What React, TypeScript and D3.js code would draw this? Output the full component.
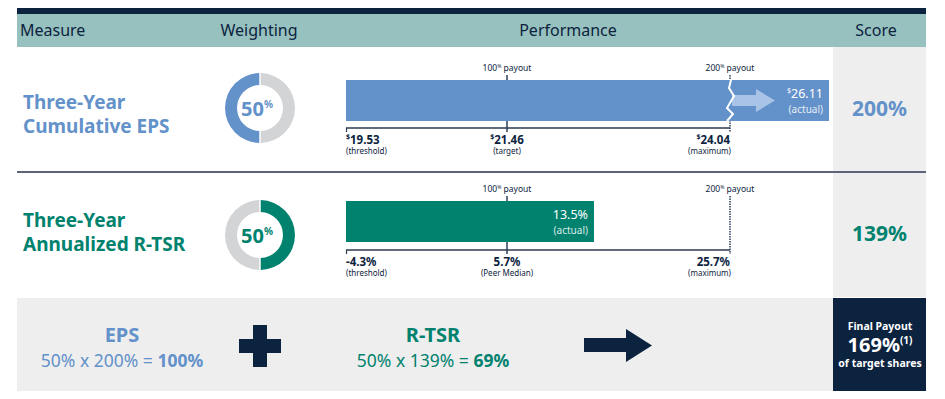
import React from "react";
import * as d3 from "d3";

// ---- data ----
const headerLabels = ["Measure", "Weighting", "Performance", "Score"];
const measureLines = [
  ["Three-Year", "Cumulative EPS"],
  ["Three-Year", "Annualized R-TSR"],
];
const weights = [50, 50];
const payoutMarks = ["100", "200"];
const epsTicks = [19.53, 21.46, 24.04];
const epsTickNotes = ["(threshold)", "(target)", "(maximum)"];
const epsActual = 26.11;
const tsrTicks = [-4.3, 5.7, 25.7];
const tsrTickNotes = ["(threshold)", "(Peer Median)", "(maximum)"];
const tsrActual = 13.5;
const scores = [200, 139];
const shortNames = ["EPS", "R-TSR"];
const contributions = [100, 69];
const finalPayout = 169;

// ---- style ----
const NAVY = "#0c2340";
const TEAL_HDR = "#97c1be";
const BLUE = "#6391c9";
const GREEN = "#00826f";
const GREY_BG = "#eeeeee";
const DONUT_GREY = "#d3d4d6";
const LIGHT_BLUE = "#a9c3e6";
const FONT = "'Noto Sans', sans-serif";

const L = 17, R = 926, SCORE_X = 833;
const perfStops = [346, 507, 730];
const perfEnd = 829;

const rows = [
  { top: 47, bottom: 172, color: BLUE, ticks: epsTicks, notes: epsTickNotes, actual: epsActual, fmt: (v: number) => v.toFixed(2), dollar: true, barTop: 80, barBot: 121, axisY: 128, weightLeft: true, titleY: 109, donutY: 108 },
  { top: 173, bottom: 297, color: GREEN, ticks: tsrTicks, notes: tsrTickNotes, actual: tsrActual, fmt: (v: number) => v.toFixed(1) + "%", dollar: false, barTop: 201, barBot: 242, axisY: 250, weightLeft: false, titleY: 227, donutY: 235 },
];

function Row({ r, i }: { r: typeof rows[number]; i: number }) {
  const x = d3.scaleLinear().domain(r.ticks).range(perfStops);
  const barEnd = Math.min(x(r.actual), perfEnd);
  const broken = x(r.actual) > perfEnd;
  const maxX = x(r.ticks[2]);
  const mid = (r.barTop + r.barBot) / 2;
  const cy = r.donutY;
  const pie = d3.pie<number>().sort(null).padAngle(0.035)
    .startAngle(r.weightLeft ? Math.PI : 0).endAngle(r.weightLeft ? 3 * Math.PI : 2 * Math.PI);
  const arcs = pie([weights[i], 100 - weights[i]]);
  const arc = d3.arc<d3.PieArcDatum<number>>().innerRadius(23).outerRadius(35);
  const anchors = ["start", "middle", "end"];
  const zig = [[1, 0], [-1, 8], [4, 16], [-3, 28], [3, 34], [-3, 41]];
  const labelY = r.barTop - 9;
  const scoreY = (r.top + r.bottom) / 2 + 6;
  return (
    <g>
      <rect x={SCORE_X} y={r.top} width={R - SCORE_X} height={r.bottom - r.top} fill={GREY_BG} />
      {measureLines[i].map((t, k) => (
        <text key={k} x={23} y={r.titleY + k * 24} fontFamily={FONT} fontWeight="bold" fontSize={19} fill={r.color}>{t}</text>
      ))}
      <g transform={`translate(260,${cy})`}>
        {arcs.map((a, k) => (
          <path key={k} d={arc(a) || ""} fill={k === 0 ? r.color : DONUT_GREY} />
        ))}
        <text x={-3} y={8} textAnchor="middle" fontFamily={FONT} fontWeight="bold" fontSize={20} fill={r.color}>
          {weights[i]}<tspan fontSize={10} dy={-8}>%</tspan>
        </text>
      </g>
      {/* payout labels */}
      {payoutMarks.map((p, k) => (
        <text key={k} x={perfStops[k + 1]} y={labelY} textAnchor="middle" fontFamily={FONT} fontSize={8.5} fill={NAVY}>
          {p}<tspan fontSize={5} dy={-3}>%</tspan><tspan dy={3}> payout</tspan>
        </text>
      ))}
      {/* target tick */}
      <line x1={x(r.ticks[1])} x2={x(r.ticks[1])} y1={r.barTop - 5} y2={r.axisY + 4} stroke={NAVY} strokeWidth={1.3} />
      {/* max dotted */}
      <line x1={maxX} x2={maxX} y1={r.barTop - 5} y2={r.axisY + 4} stroke={NAVY} strokeWidth={1.3} strokeDasharray="1.5,1" />
      {/* bar */}
      <rect x={perfStops[0]} y={r.barTop} width={barEnd - perfStops[0]} height={r.barBot - r.barTop} fill={r.color} />
      {broken && (
        <g>
          <path d={`M${maxX + 2},${mid - 5.5}H${maxX + 26}V${mid - 11.5}L${maxX + 45},${mid}L${maxX + 26},${mid + 11.5}V${mid + 5.5}H${maxX + 2}Z`} fill={LIGHT_BLUE} />
          <polyline points={zig.map(([dx, dy]) => `${maxX + dx},${r.barTop + dy}`).join(" ")} fill="none" stroke="#fff" strokeWidth={2} />
        </g>
      )}
      <text x={barEnd - 6} y={mid - 2.5} textAnchor="end" fontFamily={FONT} fontSize={12.5} fill="#fff">
        {r.dollar && <tspan fontSize={7} dy={-5}>$</tspan>}
        <tspan dy={r.dollar ? 5 : 0}>{r.fmt(r.actual)}</tspan>
      </text>
      <text x={barEnd - 6} y={mid + 12.5} textAnchor="end" fontFamily={FONT} fontSize={10} fill="#fff" opacity={0.85}>(actual)</text>
      {/* axis */}
      <line x1={perfStops[0]} x2={maxX} y1={r.axisY} y2={r.axisY} stroke="#2c3a4e" strokeWidth={1.6} />
      <line x1={perfStops[0] + 0.5} x2={perfStops[0] + 0.5} y1={r.axisY} y2={r.axisY + 4} stroke="#2c3a4e" strokeWidth={1.2} />
      {r.ticks.map((t, k) => (
        <g key={k}>
          <text x={x(t)} y={r.axisY + 15.5} textAnchor={anchors[k]} fontFamily={FONT} fontWeight="bold" fontSize={11.5} fill={NAVY}>
            {r.dollar && <tspan fontSize={7} dy={-5}>$</tspan>}
            <tspan dy={r.dollar ? 5 : 0}>{r.fmt(t)}</tspan>
          </text>
          <text x={x(t) + (k === 2 ? 1 : 0)} y={r.axisY + 26} textAnchor={anchors[k]} fontFamily={FONT} fontSize={8} fill={NAVY}>{r.notes[k]}</text>
        </g>
      ))}
      <text x={(SCORE_X + R) / 2} y={scoreY} textAnchor="middle" fontFamily={FONT} fontWeight="bold" fontSize={21} fill={r.color}>{scores[i]}%</text>
    </g>
  );
}

export default function App() {
  const headerX = [20, 259, 568, 876];
  const bottomCenters = [122, 433];
  return (
    <svg width={929} height={391} style={{ display: "block" }} viewBox="8 8 929 391">
      <rect x={8} y={8} width={929} height={391} fill="#fff" />
      <rect x={L} y={8} width={R - L} height={6} fill={NAVY} />
      <rect x={L} y={14} width={R - L} height={33} fill={TEAL_HDR} />
      {headerLabels.map((h, k) => (
        <text key={h} x={headerX[k]} y={36} textAnchor={k === 0 ? "start" : "middle"} fontFamily={FONT} fontSize={16} fill={NAVY}>{h}</text>
      ))}
      {rows.map((r, i) => <Row key={i} r={r} i={i} />)}
      <rect x={L} y={171} width={R - L} height={2} fill="#5b6478" />
      {/* bottom summary */}
      <rect x={L} y={298} width={SCORE_X - L} height={93} fill={GREY_BG} />
      {shortNames.map((n, k) => (
        <g key={n}>
          <text x={bottomCenters[k]} y={342} textAnchor="middle" fontFamily={FONT} fontWeight="bold" fontSize={20} fill={rows[k].color}>{n}</text>
          <text x={bottomCenters[k]} y={367} textAnchor="middle" fontFamily={FONT} fontSize={17.5} fill={rows[k].color}>
            {weights[k]}% x {scores[k]}% = <tspan fontWeight="bold">{contributions[k]}%</tspan>
          </text>
        </g>
      ))}
      <path d="M253,325H267V339H281V353H267V367H253V353H239V339H253Z" fill={NAVY} />
      <path d="M584,338H626V329L652,345.5L626,362V352H584Z" fill={NAVY} />
      <rect x={SCORE_X} y={298} width={R - SCORE_X} height={93} fill={NAVY} />
      <text x={880} y={330} textAnchor="middle" fontFamily={FONT} fontWeight="bold" fontSize={10.5} fill="#fff">Final Payout</text>
      <text x={880} y={352} textAnchor="middle" fontFamily={FONT} fontWeight="bold" fontSize={20} fill="#fff">
        {finalPayout}%<tspan fontSize={10} dy={-8}>(1)</tspan>
      </text>
      <text x={880} y={367} textAnchor="middle" fontFamily={FONT} fontWeight="bold" fontSize={10.5} fill="#fff">of target shares</text>
    </svg>
  );
}
